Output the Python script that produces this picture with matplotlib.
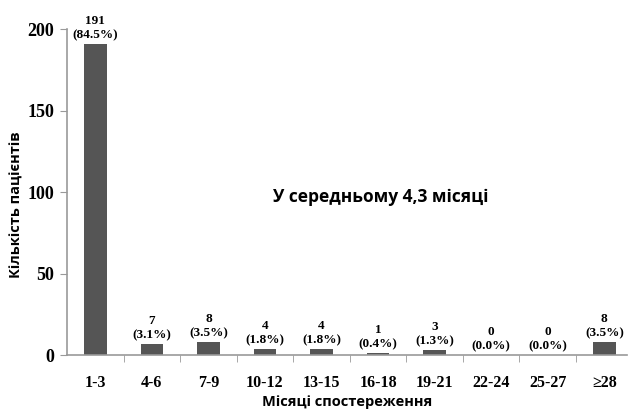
import numpy as np
import matplotlib.pyplot as plt

# Data
categories = ['1-3', '4-6', '7-9', '10-12', '13-15', '16-18', '19-21', '22-24', '25-27', '≥28']
counts = [191, 7, 8, 4, 4, 1, 3, 0, 0, 8]
percents = ['84.5%', '3.1%', '3.5%', '1.8%', '1.8%', '0.4%', '1.3%', '0.0%', '0.0%', '3.5%']
yticks = [0, 50, 100, 150, 200]

serif = ['Liberation Serif', 'DejaVu Serif']
sans = ['Open Sans', 'DejaVu Sans']

fig = plt.figure(figsize=(6.32, 4.11), dpi=100)
ax = fig.add_axes([0.106, 0.136, 0.886, 0.793])

x = np.arange(len(categories))
ax.bar(x, counts, width=0.4, color='#555555')

for xi, c, p in zip(x, counts, percents):
    ax.annotate(f'{c}\n({p})', (xi, c), xytext=(0, 2), textcoords='offset points',
                ha='center', va='bottom', fontsize=9.5, fontweight='bold',
                family=serif, linespacing=1.25)

ax.set_xlim(-0.5, 9.4)
ax.set_ylim(0, 200)
ax.set_yticks(yticks)
ax.set_yticklabels([str(t) for t in yticks], family=serif, fontweight='bold', fontsize=13)

# category labels centered, ticks between categories
ax.set_xticks(x)
ax.set_xticklabels(categories, family=serif, fontweight='bold', fontsize=11.5)
ax.tick_params(axis='x', length=0, pad=14)
ax.set_xticks(np.arange(0.5, 9.5, 1.0), minor=True)
ax.tick_params(axis='x', which='minor', length=5, color='#999999', direction='out')
ax.tick_params(axis='y', length=5, color='#999999', pad=4)

for s in ['top', 'right']:
    ax.spines[s].set_visible(False)
for s in ['left', 'bottom']:
    ax.spines[s].set_color('#999999')
    ax.spines[s].set_linewidth(1.2)

ax.set_ylabel('Кількість пацієнтів', family=sans, fontweight='bold', fontsize=10.5, labelpad=2)
ax.yaxis.set_label_coords(-0.078, 0.46)
ax.set_xlabel('Місяці спостереження', family=sans, fontweight='bold', fontsize=10.5, labelpad=3)

ax.text(5.05, 97, 'У середньому 4,3 місяці', family=sans, fontweight='bold',
        fontsize=12.5, ha='center', va='center')

fig.savefig('out.png', dpi=100)
